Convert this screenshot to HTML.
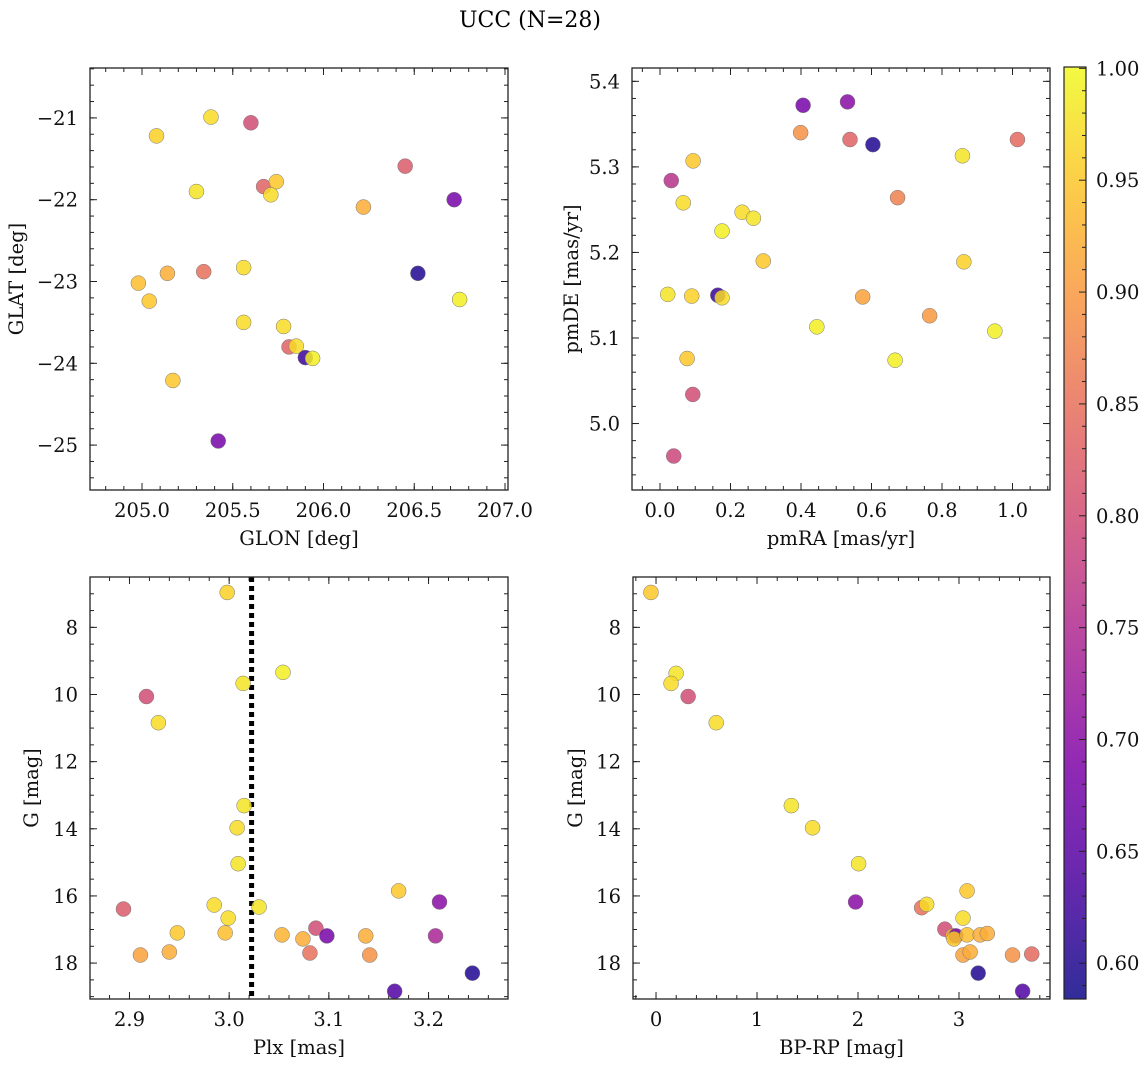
<!DOCTYPE html>
<html><head><meta charset="utf-8">
<style>
html,body{margin:0;padding:0;background:#fff;}
svg{display:block;font-family:"DejaVu Serif","Liberation Serif",serif;}
</style></head>
<body>
<svg id="fig" width="1148" height="1067" viewBox="0 0 1148 1067" xmlns="http://www.w3.org/2000/svg">
<text x="530" y="27" font-size="22" text-anchor="middle">UCC (N=28)</text>
</svg>
<script>
// Panel 1: GLON vs GLAT
const glonX = [205.08,205.38,205.60,205.30,205.67,205.74,205.71,206.45,206.72,206.22,204.98,205.14,205.34,205.56,205.04,206.52,206.75,205.56,205.78,205.81,205.85,205.90,205.94,205.17,205.42];
const glatY = [-21.22,-20.99,-21.06,-21.90,-21.84,-21.78,-21.94,-21.59,-22.00,-22.09,-23.02,-22.90,-22.88,-22.83,-23.24,-22.90,-23.22,-23.50,-23.55,-23.80,-23.79,-23.93,-23.94,-24.21,-24.95];
const glonProb = [0.96,0.97,0.80,0.98,0.83,0.95,0.97,0.82,0.68,0.92,0.94,0.92,0.85,0.97,0.95,0.60,0.99,0.97,0.97,0.83,0.97,0.62,0.99,0.95,0.68];
// Panel 2: pmRA vs pmDE
const pmraX = [0.406,0.532,0.399,0.539,0.604,1.014,0.032,0.094,0.858,0.066,0.233,0.265,0.176,0.674,0.293,0.862,0.022,0.090,0.164,0.176,0.575,0.765,0.445,0.950,0.077,0.667,0.093,0.039];
const pmdeY = [5.372,5.376,5.340,5.332,5.326,5.332,5.284,5.307,5.313,5.258,5.247,5.240,5.225,5.264,5.190,5.189,5.151,5.149,5.150,5.147,5.148,5.126,5.113,5.108,5.076,5.074,5.034,4.962];
const pmProb = [0.68,0.70,0.89,0.83,0.60,0.84,0.76,0.95,0.98,0.97,0.97,0.98,0.99,0.87,0.95,0.96,0.98,0.96,0.62,0.97,0.91,0.90,0.99,0.99,0.95,0.99,0.80,0.79];
// Panel 3: Plx vs G
const plxX = [2.998,2.917,2.929,3.014,3.054,3.015,3.008,3.009,2.985,2.999,3.030,2.894,2.948,2.996,3.053,3.074,3.087,3.098,3.081,2.911,2.940,3.137,3.141,3.170,3.211,3.207,3.244,3.166];
const plxG = [6.96,10.06,10.84,9.67,9.34,13.31,13.97,15.04,16.27,16.66,16.33,16.39,17.10,17.10,17.16,17.28,16.96,17.19,17.70,17.76,17.67,17.19,17.76,15.85,16.18,17.19,18.30,18.84];
const plxProb = [0.96,0.80,0.97,0.98,0.99,0.98,0.97,0.98,0.97,0.97,0.98,0.82,0.95,0.94,0.93,0.92,0.80,0.68,0.85,0.91,0.92,0.92,0.89,0.95,0.70,0.74,0.60,0.64];
const plxCut = [3.0225];
// Panel 4: BP-RP vs G
const bprpX = [-0.05,0.199,0.149,0.318,0.596,1.34,1.55,2.006,1.976,2.63,2.68,3.08,3.04,2.86,2.94,2.97,2.95,3.08,3.21,3.28,3.04,3.11,3.19,3.53,3.72,3.63];
const bprpG = [6.96,9.37,9.67,10.06,10.84,13.31,13.97,15.04,16.18,16.35,16.25,15.85,16.66,16.99,17.19,17.19,17.28,17.16,17.16,17.12,17.76,17.67,18.30,17.76,17.73,18.84];
const bprpProb = [0.95,0.98,0.97,0.80,0.97,0.98,0.97,0.98,0.70,0.85,0.97,0.95,0.97,0.80,0.93,0.68,0.95,0.94,0.92,0.92,0.91,0.92,0.60,0.89,0.84,0.64];
// Tick labels
const p1XTicks = [205.0,205.5,206.0,206.5,207.0];
const p1YTicks = [-21,-22,-23,-24,-25];
const p2XTicks = [0.0,0.2,0.4,0.6,0.8,1.0];
const p2YTicks = [5.0,5.1,5.2,5.3,5.4];
const p3XTicks = [2.9,3.0,3.1,3.2];
const gTicks = [8,10,12,14,16,18];
const p4XTicks = [0,1,2,3];
const cbTicks = [0.60,0.65,0.70,0.75,0.80,0.85,0.90,0.95,1.00];
const cbMin = 0.584, cbMax = 1.0006;

const NS = "http://www.w3.org/2000/svg";
const svg = document.getElementById('fig');
function mk(tag, attrs, parent){const e=document.createElementNS(NS,tag);for(const k in attrs)e.setAttribute(k,attrs[k]);(parent||svg).appendChild(e);return e;}

const stops=[[0,[13,8,135]],[0.125,[76,2,161]],[0.25,[126,3,168]],[0.375,[169,35,149]],[0.5,[204,71,120]],[0.625,[229,107,93]],[0.75,[248,149,64]],[0.875,[253,197,39]],[1,[240,249,33]]];
function plasma(t){t=Math.max(0,Math.min(1,t));for(let i=1;i<stops.length;i++){if(t<=stops[i][0]){const a=stops[i-1],b=stops[i];const f=(t-a[0])/(b[0]-a[0]);const c=a[1].map((v,j)=>Math.round(v+(b[1][j]-v)*f));return `rgb(${c[0]},${c[1]},${c[2]})`;}}return 'rgb(240,249,33)';}
function pc(p){return plasma((p-cbMin)/(cbMax-cbMin));}
function fmt(v,d){return (v<0?'\u2212':'')+Math.abs(v).toFixed(d);}
const FS=19.5;

function panel(o){
  const g=mk('g',{});
  
  
  const sx=v=>o.x0+(v-o.xmin)/(o.xmax-o.xmin)*(o.x1-o.x0);
  const sy=o.yinv? v=>o.y0+(v-o.ymin)/(o.ymax-o.ymin)*(o.y1-o.y0) : v=>o.y1-(v-o.ymin)/(o.ymax-o.ymin)*(o.y1-o.y0);
  const tk=mk('g',{stroke:'#222','stroke-width':1},g);
  
  
  const lo=Math.ceil(o.xmin/o.xminor-1e-6),hi=Math.floor(o.xmax/o.xminor+1e-6);
  for(let i=lo;i<=hi;i++){const X=sx(i*o.xminor);mk('line',{x1:X,x2:X,y1:o.y1,y2:o.y1-4},tk);mk('line',{x1:X,x2:X,y1:o.y0,y2:o.y0+4},tk);}
  const ylo=Math.ceil(Math.min(o.ymin,o.ymax)/o.yminor-1e-6),yhi=Math.floor(Math.max(o.ymin,o.ymax)/o.yminor+1e-6);
  for(let i=ylo;i<=yhi;i++){const Y=sy(i*o.yminor);mk('line',{x1:o.x0,x2:o.x0+4,y1:Y,y2:Y},tk);mk('line',{x1:o.x1,x2:o.x1-4,y1:Y,y2:Y},tk);}
  o.xt.forEach(v=>{const X=sx(v);mk('line',{x1:X,x2:X,y1:o.y1,y2:o.y1-7},tk);mk('line',{x1:X,x2:X,y1:o.y0,y2:o.y0+7},tk);
    const t=mk('text',{x:X,y:o.y1+27,'font-size':FS,'text-anchor':'middle',fill:'#111'},g);t.textContent=fmt(v,o.xd);
    });
  o.yt.forEach(v=>{const Y=sy(v);mk('line',{x1:o.x0,x2:o.x0+7,y1:Y,y2:Y},tk);mk('line',{x1:o.x1,x2:o.x1-7,y1:Y,y2:Y},tk);
    const t=mk('text',{x:o.x0-12,y:Y+7,'font-size':FS,'text-anchor':'end',fill:'#111'},g);t.textContent=fmt(v,o.yd);
    });
  const cid='clip-'+o.name;
  const cp=mk('clipPath',{id:cid},g);mk('rect',{x:o.x0,y:o.y0,width:o.x1-o.x0,height:o.y1-o.y0},cp);
  const pts=mk('g',{'clip-path':`url(#${cid})`},g);
  
  
  if(o.vline){o.vline.forEach(v=>{const l=mk('line',{x1:sx(v),x2:sx(v),y1:o.y0,y2:o.y1,stroke:'#000','stroke-width':5,'stroke-dasharray':'5,4'},pts);
    });}
  o.xs.forEach((v,i)=>{const c=mk('circle',{cx:sx(v),cy:sy(o.ys[i]),r:7.5,fill:pc(o.cs[i]),'fill-opacity':0.85,stroke:'#777','stroke-width':0.5},pts);
    
    });
  const fr=mk('rect',{x:o.x0,y:o.y0,width:o.x1-o.x0,height:o.y1-o.y0,fill:'none',stroke:'#222','stroke-width':1.3},g);
  
  const xl=mk('text',{x:(o.x0+o.x1)/2,y:o.y1+55,'font-size':FS,'text-anchor':'middle',fill:'#111'},g);xl.textContent=o.xlab;
  
  const yx=o.ylx,yy=(o.y0+o.y1)/2;
  const yl=mk('text',{x:yx,y:yy,'font-size':FS,'text-anchor':'middle',fill:'#111',transform:`rotate(-90 ${yx} ${yy})`},g);yl.textContent=o.ylab;
  
}

panel({name:'glon-glat-panel',x0:90,x1:508,y0:68,y1:490,xmin:204.7135,xmax:207.0165,ymin:-25.549,ymax:-20.39,xt:p1XTicks,yt:p1YTicks,xd:1,yd:0,xminor:0.1,yminor:0.2,xs:glonX,ys:glatY,cs:glonProb,xlab:'GLON [deg]',ylab:'GLAT [deg]',ylx:23});
panel({name:'pm-panel',x0:632,x1:1050,y0:68,y1:490,xmin:-0.0794,xmax:1.1064,ymin:4.9223,ymax:5.4156,xt:p2XTicks,yt:p2YTicks,xd:1,yd:1,xminor:0.05,yminor:0.02,xs:pmraX,ys:pmdeY,cs:pmProb,xlab:'pmRA [mas/yr]',ylab:'pmDE [mas/yr]',ylx:578});
panel({name:'plx-g-panel',x0:90,x1:508,y0:577,y1:999,xmin:2.8604,xmax:3.2797,ymin:6.5,ymax:19.07,yinv:true,xt:p3XTicks,yt:gTicks,xd:1,yd:0,xminor:0.02,yminor:0.5,xs:plxX,ys:plxG,cs:plxProb,vline:plxCut,xlab:'Plx [mas]',ylab:'G [mag]',ylx:38});
panel({name:'cmd-panel',x0:633,x1:1050,y0:577,y1:999,xmin:-0.228,xmax:3.901,ymin:6.5,ymax:19.07,yinv:true,xt:p4XTicks,yt:gTicks,xd:0,yd:0,xminor:0.2,yminor:0.5,xs:bprpX,ys:bprpG,cs:bprpProb,xlab:'BP-RP [mag]',ylab:'G [mag]',ylx:582});

// Colorbar
const cb=mk('g',{});


const cbx0=1064,cbx1=1086,cby0=67,cby1=999;
const defs=mk('defs',{},cb);
const lg=mk('linearGradient',{id:'cbgrad',x1:0,y1:1,x2:0,y2:0},defs);
for(let i=0;i<=20;i++){const t=i/20;mk('stop',{offset:t,'stop-color':plasma(t),'stop-opacity':0.85},lg);}
mk('rect',{x:cbx0,y:cby0,width:cbx1-cbx0,height:cby1-cby0,fill:'url(#cbgrad)',stroke:'#222','stroke-width':1.2},cb);
const cy=v=>cby1-(v-cbMin)/(cbMax-cbMin)*(cby1-cby0);
for(let i=59;i<=100;i++){const v=i/100,Y=cy(v);if(Y<cby0||Y>cby1)continue;const major=i%5===0;
  mk('line',{x1:cbx1,x2:cbx1-(major?7:4),y1:Y,y2:Y,stroke:'#222','stroke-width':1},cb);}
cbTicks.forEach(v=>{const t=mk('text',{x:cbx1+10,y:cy(v)+7,'font-size':FS,fill:'#111'},cb);t.textContent=v.toFixed(2);
  });
</script>
</body></html>
